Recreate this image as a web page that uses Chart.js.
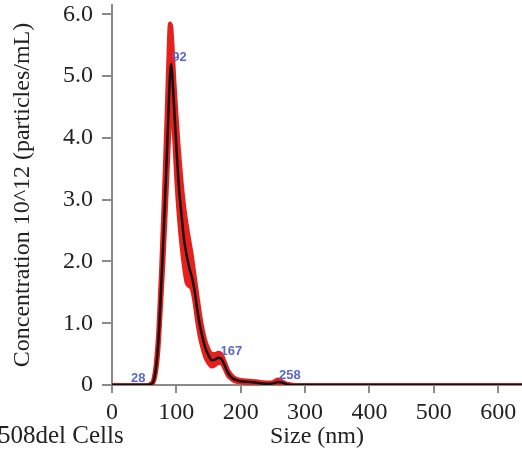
<!DOCTYPE html>
<html>
<head>
<meta charset="utf-8">
<script src="https://cdn.jsdelivr.net/npm/chart.js@4.4.0/dist/chart.umd.min.js"></script>
<style>
  html, body { margin: 0; padding: 0; background: #fff; }
  canvas { display: block; }
</style>
</head>
<body>
<canvas id="ntaChart" width="522" height="455"></canvas>
<script>
/* particle size (nm) sampled along the curve */
const sizes = [0, 20, 40, 55, 60, 64, 68, 72, 76, 80, 84, 87, 90, 92, 94, 97, 100, 104, 108, 112,
  116, 120, 124, 128, 132, 136, 140, 145, 150, 155, 160, 165, 170, 175, 180, 185, 190, 200, 215,
  230, 245, 252, 258, 264, 272, 285, 300, 400, 500, 600, 700];

/* mean concentration, 10^12 particles/mL (black line) */
const meanConc = [0, 0, 0, 0, 0.01, 0.05, 0.25, 0.7, 1.5, 2.4, 3.4, 4.2, 5.0, 5.2, 4.95, 4.4, 3.85, 3.2, 2.75, 2.35,
  2.1, 1.9, 1.75, 1.55, 1.25, 1.0, 0.8, 0.6, 0.48, 0.4, 0.41, 0.44, 0.42, 0.32, 0.2, 0.13, 0.09, 0.06, 0.05,
  0.03, 0.02, 0.03, 0.05, 0.04, 0.01, 0, 0, 0, 0, 0, 0];

/* error band (red), upper and lower edge */
const upperConc = [0, 0, 0, 0, 0.02, 0.08, 0.35, 0.9, 1.8, 2.9, 4.1, 5.1, 5.85, 5.8, 5.5, 4.9, 4.4, 3.8, 3.3, 2.9,
  2.6, 2.35, 2.1, 1.8, 1.5, 1.2, 0.95, 0.72, 0.58, 0.5, 0.5, 0.52, 0.5, 0.38, 0.25, 0.17, 0.12, 0.08, 0.07,
  0.05, 0.04, 0.06, 0.09, 0.06, 0.02, 0, 0, 0, 0, 0, 0];
const lowerConc = [0, 0, 0, 0, 0, 0.03, 0.18, 0.55, 1.25, 2.0, 2.9, 3.6, 4.3, 4.6, 4.4, 3.9, 3.3, 2.7, 2.25, 1.9,
  1.65, 1.6, 1.55, 1.35, 1.05, 0.8, 0.62, 0.45, 0.35, 0.3, 0.32, 0.36, 0.35, 0.26, 0.15, 0.1, 0.06, 0.04, 0.03,
  0.02, 0.01, 0.01, 0.02, 0.02, 0, 0, 0, 0, 0, 0, 0];

/* blue peak annotations */
const peakSizes = [28, 92, 167, 258];
const peakConc  = [0, 5.2, 0.44, 0.05];

/* axis ticks */
const xTicks = [0, 100, 200, 300, 400, 500, 600];
const yTicks = [0, 1, 2, 3, 4, 5, 6];
const yTickLabels = ['0', '1.0', '2.0', '3.0', '4.0', '5.0', '6.0'];

const serif = '"Liberation Serif", "Times New Roman", serif';
const axisGray = '#8a8a8a';
const bandRed = '#e8201c';

const toPoints = (ys) => sizes.map((s, i) => ({ x: s, y: ys[i] }));

/* draws the blue peak size labels next to each peak */
const peakLabels = {
  id: 'peakLabels',
  afterDatasetsDraw(chart) {
    const { ctx, scales: { x, y } } = chart;
    ctx.save();
    ctx.font = 'bold 13px "Liberation Sans", Arial, sans-serif';
    ctx.fillStyle = '#5a68cc';
    ctx.textAlign = 'left';
    ctx.textBaseline = 'alphabetic';
    peakSizes.forEach((s, i) => {
      ctx.fillText(String(s), x.getPixelForValue(s) + 1, y.getPixelForValue(peakConc[i]) - 3);
    });
    ctx.restore();
  }
};

/* caption fragment at bottom-left, cut by the edge as in the source */
const caption = {
  id: 'caption',
  afterDraw(chart) {
    const { ctx } = chart;
    ctx.save();
    ctx.font = '25px ' + serif;
    ctx.fillStyle = '#222';
    ctx.textAlign = 'left';
    ctx.textBaseline = 'alphabetic';
    ctx.fillText('508del Cells', -2, 443);
    ctx.restore();
  }
};

new Chart(document.getElementById('ntaChart'), {
  type: 'line',
  data: {
    datasets: [
      {
        data: toPoints(meanConc),
        borderColor: '#111',
        borderWidth: 2.5,
        pointRadius: 0,
        cubicInterpolationMode: 'monotone',
        order: 0
      },
      {
        data: toPoints(upperConc),
        borderColor: bandRed,
        borderWidth: 4,
        pointRadius: 0,
        cubicInterpolationMode: 'monotone',
        fill: false,
        order: 1
      },
      {
        data: toPoints(lowerConc),
        borderColor: bandRed,
        backgroundColor: bandRed,
        borderWidth: 4,
        pointRadius: 0,
        cubicInterpolationMode: 'monotone',
        fill: '-1',
        order: 2
      }
    ]
  },
  options: {
    responsive: false,
    animation: false,
    layout: { padding: { top: 5, right: 0, left: 0, bottom: 0 } },
    plugins: {
      legend: { display: false },
      tooltip: { enabled: false }
    },
    scales: {
      x: {
        type: 'linear',
        min: 0,
        max: 637,
        afterBuildTicks: (s) => { s.ticks = xTicks.map(v => ({ value: v })); },
        afterFit: (s) => { s.height = 70; s.paddingLeft = 0; s.paddingRight = 0; },
        ticks: { color: '#222', font: { family: serif, size: 24 }, padding: 5, maxRotation: 0 },
        grid: { drawOnChartArea: false, drawTicks: true, tickLength: 8, color: axisGray, lineWidth: 2 },
        border: { color: axisGray, width: 2 },
        title: { display: true, text: 'Size (nm)', color: '#222', font: { family: serif, size: 24 }, padding: { top: 0, bottom: 4 } }
      },
      y: {
        min: 0,
        max: 6.15,
        afterBuildTicks: (s) => { s.ticks = yTicks.map(v => ({ value: v })); },
        afterFit: (s) => { s.width = 112; s.paddingTop = 0; s.paddingBottom = 0; },
        ticks: {
          color: '#222',
          font: { family: serif, size: 24 },
          padding: 9,
          callback: (v, i) => yTickLabels[i]
        },
        grid: { drawOnChartArea: false, drawTicks: true, tickLength: 10, color: axisGray, lineWidth: 2 },
        border: { color: axisGray, width: 2 },
        title: { display: true, text: 'Concentration 10^12 (particles/mL)', color: '#222', font: { family: serif, size: 24 }, padding: { top: 8, bottom: 0 } }
      }
    }
  },
  plugins: [peakLabels, caption]
});
</script>
</body>
</html>
